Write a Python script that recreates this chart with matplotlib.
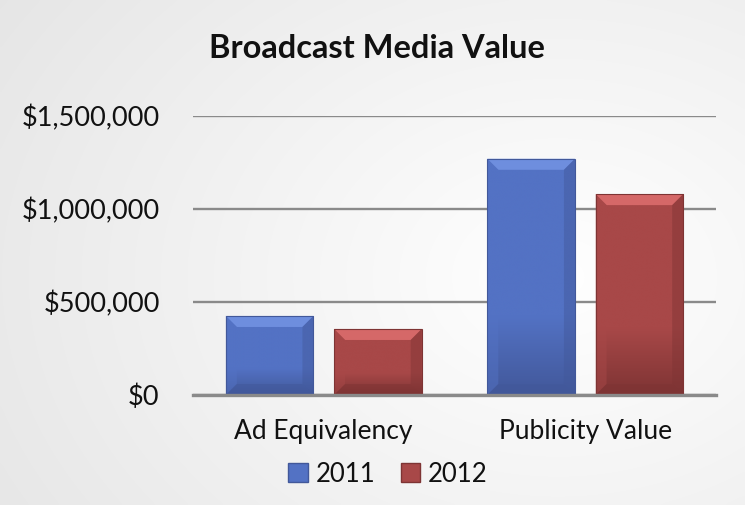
import numpy as np
import matplotlib
matplotlib.use("Agg")
import matplotlib.pyplot as plt
from matplotlib.colors import LinearSegmentedColormap
from matplotlib.patches import Polygon, Patch
from matplotlib.ticker import FuncFormatter

categories = ["Ad Equivalency", "Publicity Value"]
series_names = ["2011", "2012"]
values_2011 = [425000, 1270000]
values_2012 = [355000, 1080000]
yticks = [0, 500000, 1000000, 1500000]

W, H = 745, 505
fig = plt.figure(figsize=(W / 100, H / 100), dpi=100)
plt.rcParams['font.family'] = ['Lato', 'DejaVu Sans']

# background gradient
bg = fig.add_axes([0, 0, 1, 1], zorder=-10)
bg.axis('off')
yy, xx = np.mgrid[0:1:200j, 0:1:300j]
d = np.sqrt(((xx - 0.75) * 1.0) ** 2 + ((yy - 0.55) * 0.9) ** 2)
g = np.clip(1.0 - 0.11 * d, 0.89, 1.0)
img = np.dstack([g, g, g])
bg.imshow(img, extent=[0, 1, 0, 1], aspect='auto', interpolation='bicubic')
bg.set_xlim(0, 1); bg.set_ylim(0, 1)

left, right = 193 / W, 716 / W
bottom, top = 1 - 395 / H, 1 - 116 / H
ax = fig.add_axes([left, bottom, right - left, top - bottom])
ax.patch.set_alpha(0)

x = np.arange(len(categories))
width = 0.335
off = 0.207

ax.set_xlim(-0.5, len(categories) - 0.5)
ax.set_ylim(0, 1500000)

px_x = (len(categories)) / (right - left) / W
px_y = 1500000 / (top - bottom) / H

colors = {
    "2011": ("#7090e0", "#5372c4", "#42589a"),
    "2012": ("#d86a6a", "#a84848", "#7e3434"),
}

def draw_bars(xpos, vals, name):
    light, mid, dark = colors[name]
    bars = ax.bar(xpos, vals, width, color=mid, zorder=3, edgecolor='none')
    cmap = LinearSegmentedColormap.from_list(name, [dark, mid, mid, mid])
    for b in bars:
        x0, y0 = b.get_x(), b.get_y()
        w, h = b.get_width(), b.get_height()
        grad = np.linspace(0, 1, 256).reshape(-1, 1)
        im = ax.imshow(grad, extent=[x0, x0 + w, y0, y0 + h], origin='lower',
                       aspect='auto', cmap=cmap, zorder=3.5, interpolation='bicubic')
        im.set_clip_path(b)
        bw = 11 * px_x
        bh = 11 * px_y
        # top bevel
        ax.add_patch(Polygon([(x0, y0 + h), (x0 + w, y0 + h), (x0 + w - bw, y0 + h - bh),
                              (x0 + bw, y0 + h - bh)], closed=True, facecolor=light,
                             edgecolor='none', alpha=0.95, zorder=4))
        # side bevels
        ax.add_patch(Polygon([(x0, y0), (x0, y0 + h), (x0 + bw, y0 + h - bh), (x0 + bw, y0 + bh)],
                             closed=True, facecolor=mid, edgecolor='none', alpha=0.5, zorder=4))
        ax.add_patch(Polygon([(x0 + w, y0), (x0 + w, y0 + h), (x0 + w - bw, y0 + h - bh),
                              (x0 + w - bw, y0 + bh)], closed=True, facecolor=dark,
                             edgecolor='none', alpha=0.45, zorder=4))
        # bottom bevel
        ax.add_patch(Polygon([(x0, y0), (x0 + w, y0), (x0 + w - bw, y0 + bh), (x0 + bw, y0 + bh)],
                             closed=True, facecolor=dark, edgecolor='none', alpha=0.5, zorder=4))
        # outline
        ax.add_patch(Polygon([(x0, y0), (x0, y0 + h), (x0 + w, y0 + h), (x0 + w, y0)],
                             closed=True, facecolor='none', edgecolor=dark, lw=0.8, zorder=4.5))
    return bars

draw_bars(x - off, values_2011, "2011")
draw_bars(x + off, values_2012, "2012")

ax.set_yticks(yticks)
ax.yaxis.set_major_formatter(FuncFormatter(lambda v, p: "${:,.0f}".format(v)))
ax.yaxis.grid(True, color='#8a8a8a', lw=1.7, zorder=1)
ax.set_axisbelow(True)
for s in ['top', 'right', 'left']:
    ax.spines[s].set_visible(False)
ax.spines['bottom'].set_color('#8a8a8a')
ax.spines['bottom'].set_linewidth(2.4)
ax.spines['bottom'].set_zorder(5)
ax.tick_params(axis='y', length=0, pad=24, labelsize=19.5, labelcolor='#111111')
ax.tick_params(axis='x', length=0, pad=17, labelsize=19, labelcolor='#111111')
ax.set_xticks(x)
ax.set_xticklabels(categories)

fig.text(377 / W, 1 - 49 / H, "Broadcast Media Value", ha='center', va='center',
         fontsize=23.5, fontweight='bold', color='#111111')

handles = [Patch(facecolor=colors[n][1], edgecolor=colors[n][2], label=n) for n in series_names]
fig.legend(handles=handles, loc='center', bbox_to_anchor=(388 / W, 1 - 474 / H), ncol=2,
           frameon=False, fontsize=18.5, handlelength=0.75, handleheight=0.75,
           handletextpad=0.3, columnspacing=1.0, labelcolor='#111111')

fig.savefig("out.png", dpi=100)
